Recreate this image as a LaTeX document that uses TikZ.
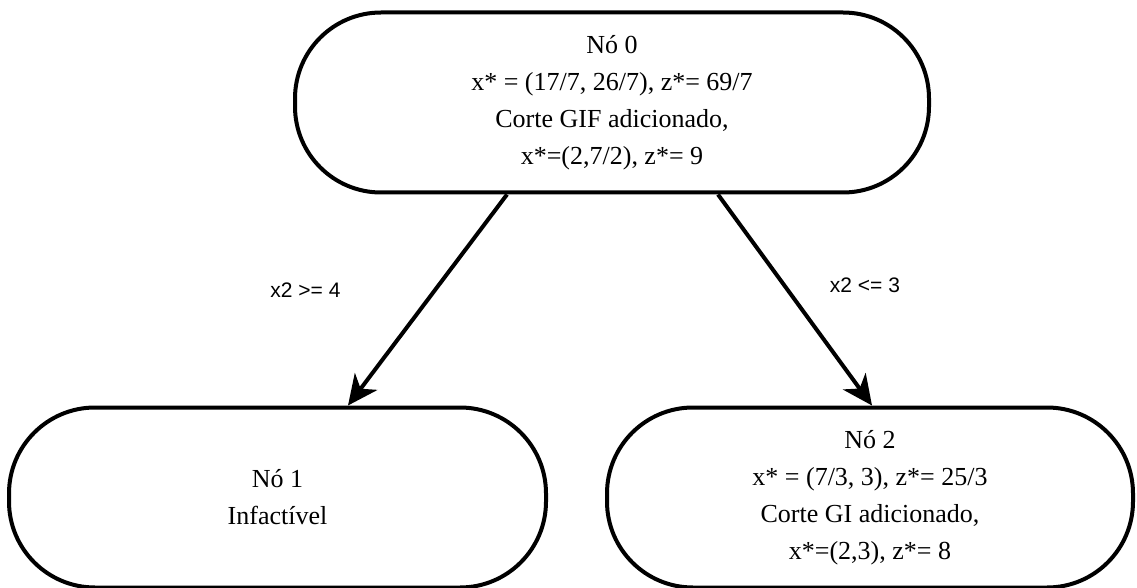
\documentclass[tikz,border=0pt]{standalone}
\usepackage{fontspec}
\setmainfont{Liberation Serif}
\newfontfamily\edgefont{Liberation Sans}
\usetikzlibrary{positioning, arrows.meta}
\newcommand{\branchwidth}{4pt}
\newcommand{\brancharrow}{-{Stealth[length=30pt,width=28pt,inset=9pt]}}
\tikzset{
  bbnode/.style={draw, line width=4pt, rounded corners=86pt, minimum height=180pt,
    align=center, inner sep=0pt, font=\fontsize{26}{37}\selectfont,
    execute at begin node=\rule{0pt}{32pt}},
  cutlabel/.style={inner sep=0pt, anchor=base, font=\edgefont\fontsize{21}{24}\selectfont}
}

\begin{document}
\begin{tikzpicture}
        \useasboundingbox (0,0) rectangle (1137pt,-588pt);
        \node[bbnode, minimum width=634pt] (root) at (612pt,-102.5pt)
        {Nó 0\\ x* = (17/7, 26/7), z*= 69/7\\ Corte GIF adicionado,\\ x*=(2,7/2), z*= 9};
        \node[bbnode, minimum width=537pt, below=211pt of root.south, xshift=-334.5pt] (nodeone)
        {Nó 1\\ Infactível};
        \node[bbnode, minimum width=526pt, below=211pt of root.south, xshift=258pt] (nodetwo)
        {Nó 2\\ x* = (7/3, 3), z*= 25/3\\ Corte GI adicionado,\\ x*=(2,3), z*= 8};
        \draw[\brancharrow, line width=\branchwidth] ([xshift=-105pt]root.south) -- ([xshift=70.5pt]nodeone.north);
        \draw[\brancharrow, line width=\branchwidth] ([xshift=106pt]root.south) -- ([xshift=2pt]nodetwo.north);
        \node[cutlabel] (cutleft) at (305.5pt,-297pt) {x2 >= 4};
        \node[cutlabel] (cutright) at (865pt,-292pt) {x2 <= 3};
    \end{tikzpicture}
\end{document}
